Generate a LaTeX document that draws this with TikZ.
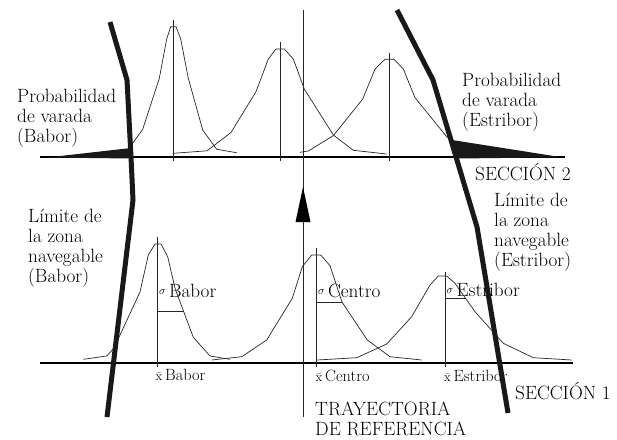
\documentclass[tikz,border=0pt]{standalone}
\usepackage{fontspec}
\usetikzlibrary{positioning}

\begin{document}
\begin{tikzpicture}[
    x=1pt, y=-1pt,
    txt/.style={
        font=\fontsize{19.2}{20}\selectfont,
        inner sep=0pt,
        align=left,
        anchor=base west
    },
    smalltxt/.style={
        font=\fontsize{16.3}{18}\selectfont,
        inner sep=0pt,
        anchor=base west
    },
    curve/.style={
        draw=black!85,
        line width=0.7pt,
        line join=round
    },
    meanline/.style={
        draw=black!85,
        line width=0.8pt
    },
    axis/.style={
        draw=black,
        line width=1.4pt
    },
    boundary/.style={
        draw=black!90,
        line width=5pt
    },
    wedge/.style={
        fill=black!90
    }
]

\useasboundingbox (0,0) rectangle (617,439);

% ==================== SECTIONS ====================
\coordinate (s2left) at (40,157);
\coordinate (s2right) at (565,157);
\coordinate (s1left) at (40,363);
\coordinate (s1right) at (573,363);
\draw[axis] (s2left) -- (s2right);
\draw[axis] (s1left) -- (s1right);

% ==================== REFERENCE TRAJECTORY ====================
\coordinate (trajtop) at (303,10);
\coordinate (trajbot) at (303,417);
\draw[meanline] (trajtop) -- (trajbot);
\fill (303,187) -- (295.5,222) -- (310.5,222) -- cycle;

% ==================== CURVES - SECTION 2 ====================
\draw[curve] (130,147) -- (142.7,129.3) -- (159.3,78.3) -- (166.7,39) -- (170.7,26.7)
    -- (176,26.7) -- (180.7,39) -- (188.3,78.3) -- (202.7,130) -- (216.7,149.3) -- (236.7,152.7);
\draw[curve] (173.3,153.3) -- (207,150.8) -- (231,132.5) -- (256,91.7) -- (268.3,59) -- (276,49)
    -- (284.3,49) -- (293.3,59) -- (304.3,89) -- (333.3,135) -- (353.3,150.3) -- (386.7,154);
\draw[curve] (300,152.3) -- (308.3,151) -- (333.3,135.7) -- (362.7,99) -- (375,69) -- (385,59.3)
    -- (394,59.3) -- (403.3,69) -- (415,97.7) -- (446.7,136.7) -- (455,142);

\draw[meanline] (173.3,20) -- (173.3,161);
\draw[meanline] (280.7,42.3) -- (280.7,161);
\draw[meanline] (389,53.3) -- (389,161);

% ==================== CURVES - SECTION 1 ====================
\draw[curve] (83.3,359.3) -- (106.7,356) -- (114,348) -- (140,292) -- (148.3,255) -- (155,244)
    -- (161,244) -- (167.7,256.7) -- (175,288.3) -- (193.3,337.3) -- (210,356) -- (230,359.3);
\draw[curve] (211.7,360) -- (241.7,356.7) -- (266.7,340) -- (292.3,298.3) -- (302.3,266.7) -- (311.7,255)
    -- (320.7,255) -- (330,265.7) -- (342,302) -- (367.3,340) -- (390,356.7) -- (421.7,360);
\draw[curve] (317.3,360) -- (356.7,357.7) -- (386.7,344) -- (411.7,316.7) -- (430,285) -- (438.3,276)
    -- (446.7,276) -- (455,283.3) -- (475,311.7) -- (503.3,343.3) -- (533.3,357.7) -- (571.7,360);

\draw[meanline] (157.7,236.7) -- (157.7,367);
\draw[meanline] (316,248.3) -- (316,367);
\draw[meanline] (445,271.7) -- (445,367);

% sigma marks
\draw[meanline] (157.7,311.7) -- (184,311.7);
\draw[meanline] (316,302.3) -- (342.3,302.3);
\draw[meanline] (445,298.3) -- (466,298.3);

% ==================== LABELS ====================
\node[txt] (probbabor) at (17,142) {Probabilidad\\de varada\\(Babor)};
\node[txt] (probestribor) at (462,126) {Probabilidad\\de varada\\(Estribor)};
\node[txt] (seccion2) at (475,180) {SECCIÓN 2};
\node[txt] (limbabor) at (28,282.7) {Límite de\\la zona\\navegable\\(Babor)};
\node[txt] (limestribor) at (494,266) {Límite de\\la zona\\navegable\\(Estribor)};
\node[txt] (seccion1) at (515,399) {SECCIÓN 1};
\node[txt] (trayectoria) at (315,435) {TRAYECTORIA\\DE REFERENCIA};

\node[txt] (sigbabor) at (159,297) {\raisebox{3pt}{\fontsize{10.5}{10}\selectfont$\sigma$}\,Babor};
\node[txt] (sigcentro) at (318,297) {\raisebox{3pt}{\fontsize{10.5}{10}\selectfont$\sigma$}\,Centro};
\node[txt] (sigestribor) at (446.5,296) {\raisebox{3pt}{\fontsize{10.5}{10}\selectfont$\sigma$}\,Estribor};

\node[smalltxt] (xbabor) at (155.5,380) {{\fontsize{13}{13}\selectfont$\bar{\mathrm{x}}$}\,Babor};
\node[smalltxt] (xcentro) at (315.5,381) {{\fontsize{13}{13}\selectfont$\bar{\mathrm{x}}$}\,Centro};
\node[smalltxt] (xestribor) at (444,381) {{\fontsize{13}{13}\selectfont$\bar{\mathrm{x}}$}\,Estribor};

% ==================== NAVIGABLE LIMITS ====================
\fill[wedge] (47,157.5) -- (131,148) -- (131,158.5) -- cycle;
\fill[wedge] (452,140) -- (562,157.3) -- (457,158.5) -- cycle;

\draw[boundary] (110,22) -- (127,80) -- (131,157) -- (133,200) -- (107,417);
\draw[boundary] (397,10) -- (433,80) -- (477,227) -- (508,413);

\end{tikzpicture}
\end{document}
